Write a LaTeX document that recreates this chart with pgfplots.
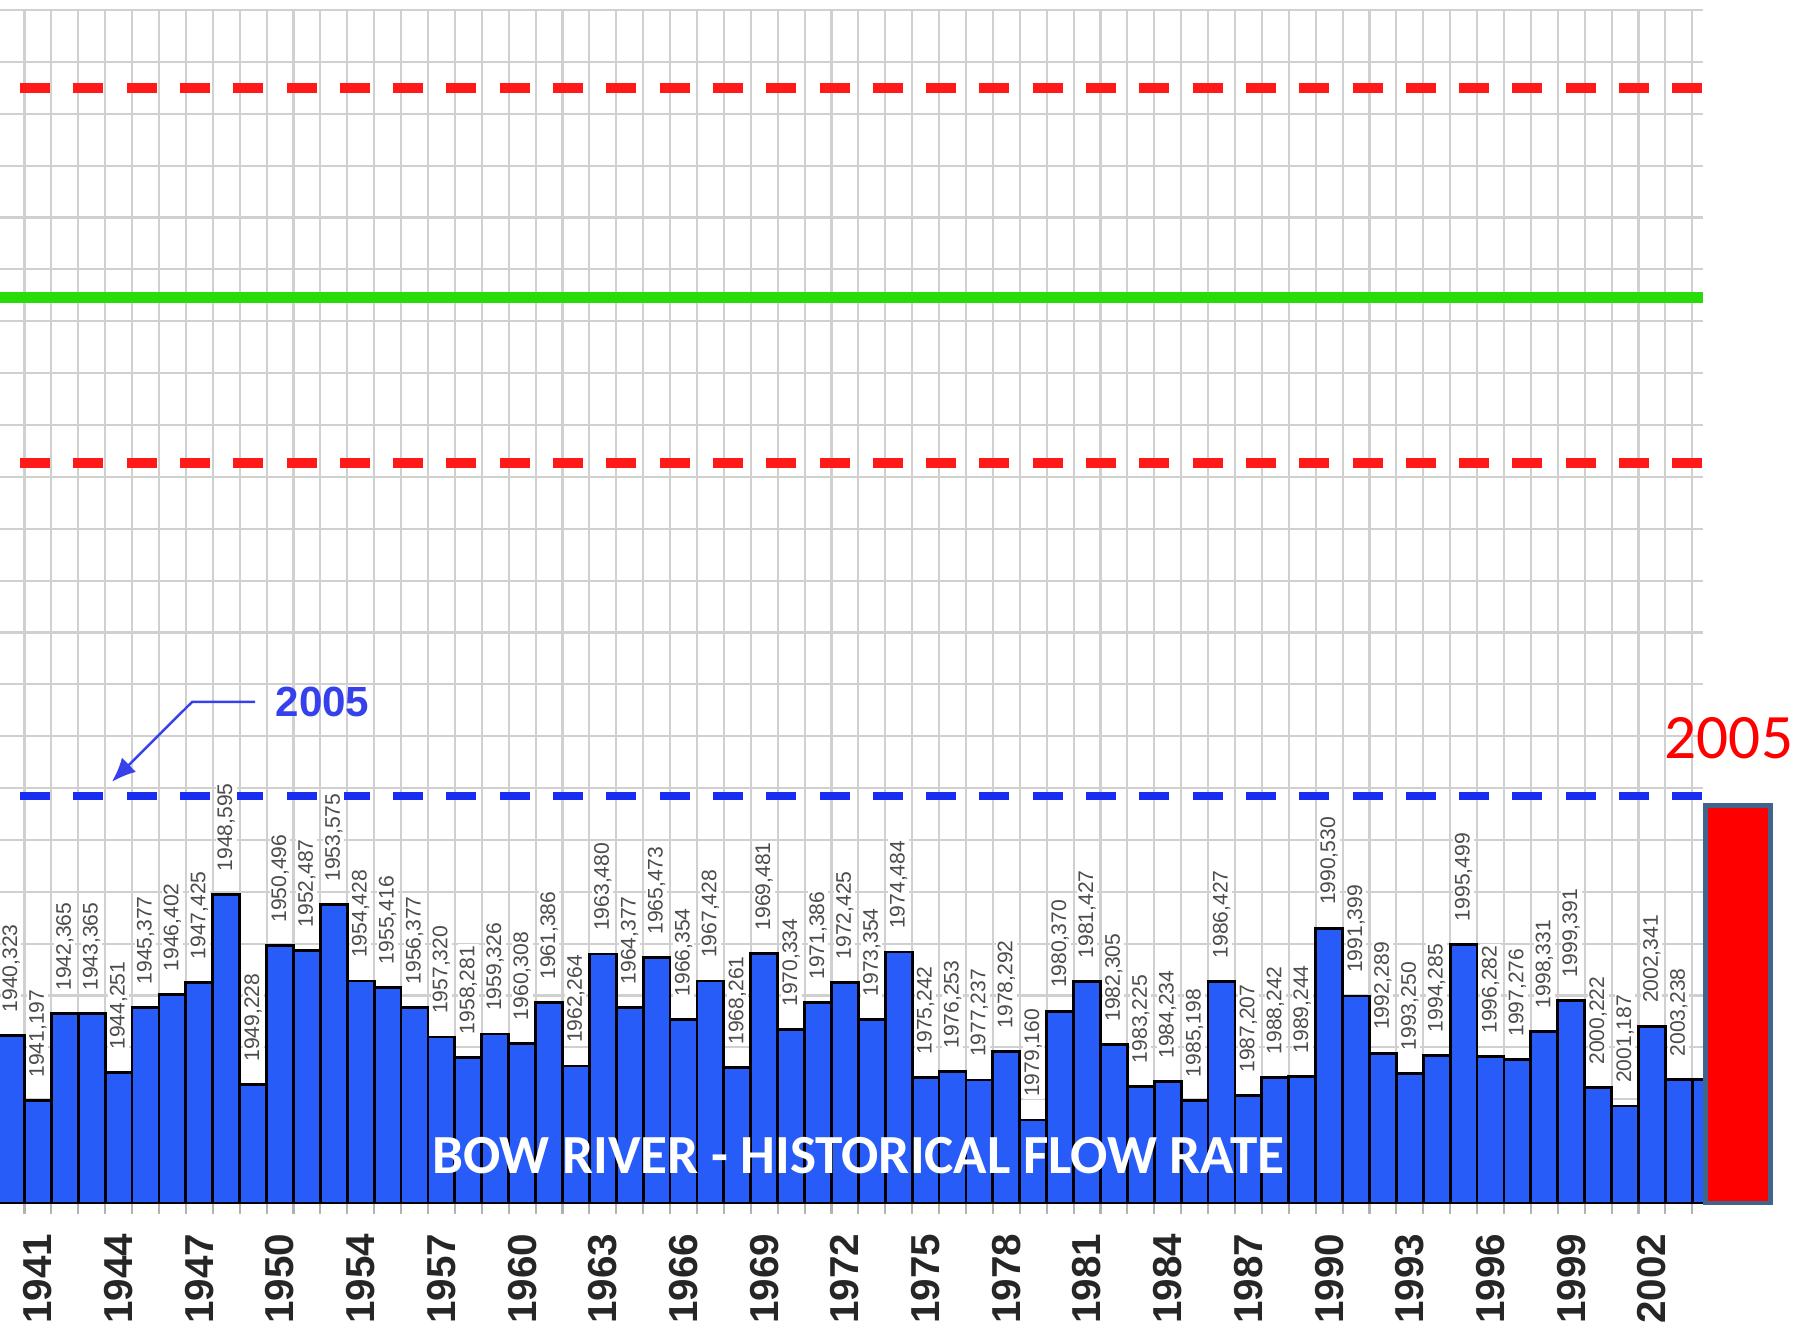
\documentclass[border=0pt]{standalone}
\usepackage{fontspec}
\setmainfont{Liberation Sans}
\newfontfamily\carlito{Carlito}
\usepackage{pgfplots}
\pgfplotsset{compat=1.18}
\usepackage{pgfplotstable}
\usetikzlibrary{arrows.meta}

\definecolor{barblue}{RGB}{40,92,248}
\definecolor{refred}{RGB}{255,25,25}
\definecolor{refgreen}{RGB}{40,220,10}
\definecolor{refblue}{RGB}{25,45,240}
\definecolor{annblue}{RGB}{55,65,235}
\definecolor{slate}{RGB}{65,100,140}
\definecolor{gridc}{RGB}{208,208,208}

\pgfplotstableread{
i v lab
0 323 1940,323
1 197 1941,197
2 365 1942,365
3 365 1943,365
4 251 1944,251
5 377 1945,377
6 402 1946,402
7 425 1947,425
8 595 1948,595
9 228 1949,228
10 496 1950,496
11 487 1952,487
12 575 1953,575
13 428 1954,428
14 416 1955,416
15 377 1956,377
16 320 1957,320
17 281 1958,281
18 326 1959,326
19 308 1960,308
20 386 1961,386
21 264 1962,264
22 480 1963,480
23 377 1964,377
24 473 1965,473
25 354 1966,354
26 428 1967,428
27 261 1968,261
28 481 1969,481
29 334 1970,334
30 386 1971,386
31 425 1972,425
32 354 1973,354
33 484 1974,484
34 242 1975,242
35 253 1976,253
36 237 1977,237
37 292 1978,292
38 160 1979,160
39 370 1980,370
40 427 1981,427
41 305 1982,305
42 225 1983,225
43 234 1984,234
44 198 1985,198
45 427 1986,427
46 207 1987,207
47 242 1988,242
48 244 1989,244
49 530 1990,530
50 399 1991,399
51 289 1992,289
52 250 1993,250
53 285 1994,285
54 499 1995,499
55 282 1996,282
56 276 1997,276
57 331 1998,331
58 391 1999,391
59 222 2000,222
60 187 2001,187
61 341 2002,341
62 238 2003,238
}\flows

\begin{document}
\begin{tikzpicture}
\path[use as bounding box] (0,-13.2mm) rectangle (179.6mm,120.3mm);
\begin{axis}[
  at={(0,0)}, anchor=south west,
  scale only axis, width=170.3mm, height=119.3mm,
  xmin=-0.41, xmax=62.9, ymin=0, ymax=2300,
  axis line style={draw=none},
  xtick={1,4,...,61},
  xticklabels={1941,1944,1947,1950,1954,1957,1960,1963,1966,1969,1972,1975,1978,1981,1984,1987,1990,1993,1996,1999,2002},
  minor xtick={-0.5,0.5,...,62.5},
  xminorgrids=true, xmajorgrids=false,
  ytick={0,100,...,2300}, yticklabels={}, ymajorgrids=true,
  major grid style={gridc, line width=0.6pt},
  minor grid style={gridc, line width=0.6pt},
  major tick length=0pt, minor tick length=1.1mm,
  xtick pos=left, ytick pos=left, tick align=outside,
  minor tick style={gray!60, line width=0.6pt},
  xticklabel shift=3.0mm,
  xticklabel style={inner sep=0pt, rotate=90, anchor=east, text=black!85,
    font=\bfseries\fontsize{11.5}{12}\selectfont},
]
\addplot[ybar, bar width=1, fill=barblue, draw=black, line width=0.8pt]
  coordinates {(63,238)};
\addplot[ybar, bar width=1, fill=barblue, draw=black, line width=0.8pt,
  point meta=explicit symbolic, nodes near coords,
  every node near coord/.append style={font=\fontsize{6}{7}\selectfont,
    text=black!70, fill=white, inner sep=0.5pt, yshift=2.0mm, rotate=90, anchor=west}]
  table[x=i, y=v, meta=lab]{\flows};
\addplot[refred, line width=2.8pt, dash pattern=on 3mm off 2.33mm, dash phase=3.33mm]
  coordinates {(-0.41,2150) (62.9,2150)};
\addplot[refred, line width=2.8pt, dash pattern=on 3mm off 2.33mm, dash phase=3.33mm]
  coordinates {(-0.41,1427) (62.9,1427)};
\addplot[refgreen, line width=3.1pt]
  coordinates {(-0.41,1745) (62.9,1745)};
\addplot[refblue, line width=2.3pt, dash pattern=on 3mm off 2.33mm, dash phase=3.33mm]
  coordinates {(-0.41,785) (62.9,785)};
\node[text=white, font=\carlito\bfseries\fontsize{15.7}{18}\selectfont]
  at (axis cs:31.5,92) {BOW RIVER - HISTORICAL FLOW RATE};
\node[text=annblue, font=\bfseries\fontsize{12}{14}\selectfont]
  at (axis cs:11.58,966) {2005};
\draw[annblue, line width=0.7pt, -{Latex[length=2.4mm,width=2mm]}]
  (axis cs:9.07,966) -- (axis cs:6.73,966) -- (axis cs:3.75,812);
\end{axis}
\begin{axis}[
  at={(170.3mm,0)}, anchor=south west,
  scale only axis, width=7mm, height=119.3mm,
  xmin=0, xmax=1, ymin=0, ymax=2300,
  hide axis, clip=false,
]
\addplot[ybar, bar width=6.5mm, fill=red, draw=slate, line width=1.4pt]
  coordinates {(0.5,767)};
\node[text=red, font=\carlito\fontsize{18}{20}\selectfont]
  at (axis cs:0.37,896) {2005};
\end{axis}
\end{tikzpicture}
\end{document}
